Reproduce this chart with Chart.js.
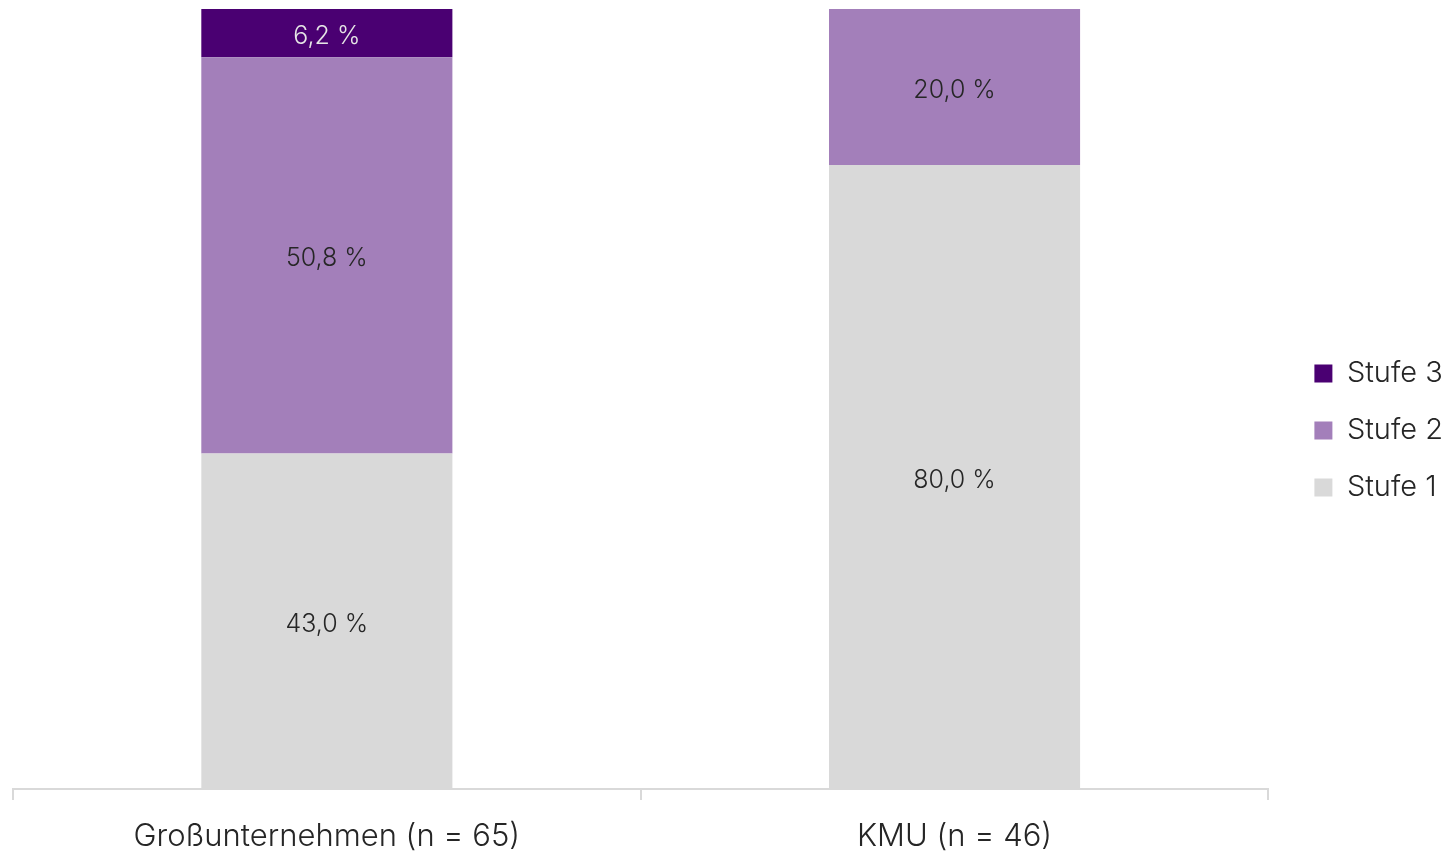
<!DOCTYPE html>
<html lang="de">
<head>
<meta charset="utf-8">
<title>Stufen nach Unternehmensgröße</title>
<script src="https://cdn.jsdelivr.net/npm/chart.js@4"></script>
<style>
  html, body { margin: 0; padding: 0; background: #fff; }
  canvas { display: block; }
</style>
</head>
<body>
<canvas id="chart" width="1448" height="852"></canvas>
<script>
'use strict';

// Categories and shares (in %) per level
const categories = ['Großunternehmen (n = 65)', 'KMU (n = 46)'];
const stufe1 = [43.0, 80.0];
const stufe2 = [50.8, 20.0];
const stufe3 = [6.2, 0];

const seriesNames = ['Stufe 1', 'Stufe 2', 'Stufe 3'];
const seriesColors = ['#d9d9d9', '#a37fba', '#4a0072'];
const labelColors = ['#262626', '#262626', '#e6e6e6'];

const FONT = 'Inter, Roboto, sans-serif';

// Writes the value inside every segment, German decimal comma
const segmentLabels = {
  id: 'segmentLabels',
  afterDatasetsDraw(chart) {
    const ctx = chart.ctx;
    ctx.save();
    ctx.font = '300 25px ' + FONT;
    ctx.textAlign = 'center';
    ctx.textBaseline = 'middle';
    chart.data.datasets.forEach((ds, i) => {
      const meta = chart.getDatasetMeta(i);
      meta.data.forEach((bar, j) => {
        const v = ds.data[j];
        if (!v) return;
        const y = (bar.y + bar.base) / 2 + 3;
        ctx.fillStyle = labelColors[i];
        ctx.fillText(v.toFixed(1).replace('.', ',') + ' %', bar.x, y);
      });
    });
    ctx.restore();
  }
};

const datasets = [stufe1, stufe2, stufe3].map((values, i) => ({
  label: seriesNames[i],
  data: values,
  backgroundColor: seriesColors[i],
  borderWidth: 0,
  categoryPercentage: 1.0,
  barPercentage: 0.4
}));

new Chart(document.getElementById('chart'), {
  type: 'bar',
  data: { labels: categories, datasets: datasets },
  plugins: [segmentLabels],
  options: {
    responsive: false,
    animation: false,
    layout: { padding: { top: 9, left: 13, right: -5, bottom: 0 } },
    plugins: {
      tooltip: { enabled: false },
      legend: {
        position: 'right',
        reverse: true,
        labels: {
          boxWidth: 18,
          boxHeight: 18,
          padding: 28,
          color: '#262626',
          font: { family: FONT, size: 29, weight: '300' }
        }
      }
    },
    scales: {
      x: {
        stacked: true,
        offset: true,
        afterFit(scale) { scale.height = 63; },
        grid: {
          offset: true,
          drawOnChartArea: false,
          drawTicks: true,
          tickLength: 11,
          color: '#d9d9d9',
          lineWidth: 2
        },
        border: { display: true, color: '#d9d9d9', width: 2 },
        ticks: {
          padding: 18,
          color: '#262626',
          font: { family: FONT, size: 31, weight: '300' }
        }
      },
      y: {
        stacked: true,
        position: 'right',
        min: 0,
        max: 100,
        // empty axis, only keeps a gap between the bars and the legend
        afterFit(scale) { scale.width = 18; },
        grid: { display: false },
        border: { display: false },
        ticks: { display: false }
      }
    }
  }
});
</script>
</body>
</html>
